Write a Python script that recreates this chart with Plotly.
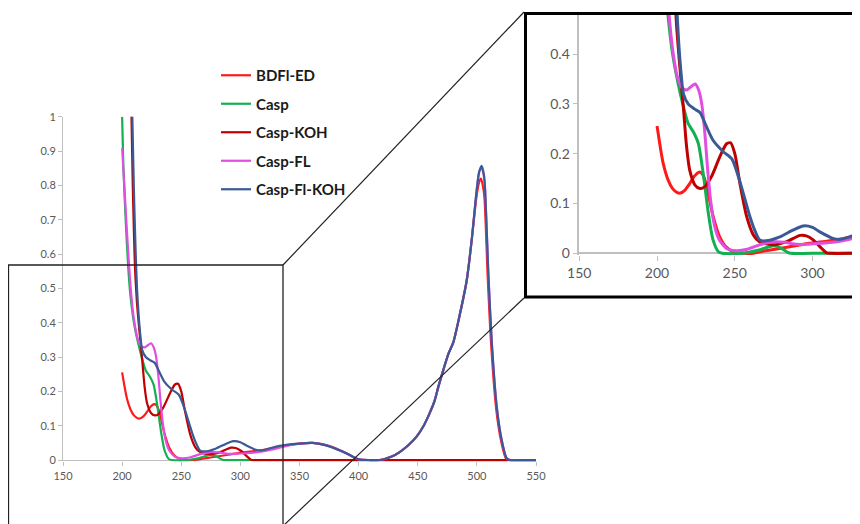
import plotly.graph_objects as go

# the page body has an 8px margin; the figure fills the rest of the 860x524 window
OFF = 8
W, H = 860 - OFF, 524 - OFF

series_names = ["BDFl-ED", "Casp", "Casp-KOH", "Casp-FL", "Casp-Fl-KOH"]
series_colors = ["#FF1A1A", "#12B050", "#C00000", "#E14FE1", "#3A5A95"]

wl_bdfl = [200, 202, 204, 207, 210, 213, 215, 218, 221, 224, 227, 229, 231, 233, 236, 240, 244, 249, 255, 262,
           268, 276, 287, 298, 310, 320, 330, 340, 350, 361, 370, 380, 390, 400, 410, 418, 428, 435, 442, 449,
           455, 460, 464, 467.4, 471.6, 476, 480, 485.7, 491.4, 495.6, 499.8, 502, 503.5, 505.5, 506.5, 509.2,
           512, 516.3, 520.5, 524.7, 528, 540, 550]
abs_bdfl = [0.2555, 0.215, 0.18, 0.148, 0.13, 0.122, 0.121, 0.127, 0.14, 0.155, 0.163, 0.16, 0.145, 0.118, 0.075,
            0.035, 0.014, 0.003, 0.0, 0.0, 0.004, 0.008, 0.014, 0.02, 0.025, 0.03, 0.037, 0.043, 0.048, 0.05, 0.046,
            0.035, 0.019, 0.002, 0.0, 0.0, 0.01, 0.024, 0.043, 0.068, 0.1, 0.136, 0.17, 0.213, 0.262, 0.31, 0.342,
            0.426, 0.523, 0.64, 0.77, 0.81, 0.82, 0.79, 0.76, 0.53, 0.34, 0.15, 0.055, 0.004, 0.0, 0.0, 0.0]

wl_casp = [200, 201, 203, 205, 207, 210, 213.6, 217, 220, 223.3, 226.5, 229.7, 233, 236, 239.5, 242, 255, 265,
           275, 280, 284, 286, 300, 400, 500, 550]
abs_casp = [1.0, 0.86, 0.70, 0.57, 0.48, 0.40, 0.34, 0.294, 0.261, 0.244, 0.221, 0.16, 0.08, 0.027, 0.003, 0.0,
            0.0, 0.006, 0.015, 0.01, 0.002, 0.0, 0.0, 0.0, 0.0, 0.0]

wl_casp_koh = [207.8, 209, 210, 211, 212.5, 214.5, 217, 219, 221, 224.4, 227.6, 230.8, 235, 240.4, 244.7, 247.3,
               250, 253.3, 257.6, 261.9, 266, 274.7, 283, 292, 296, 300.4, 305.8, 309, 311, 330, 400, 500, 550]
abs_casp_koh = [1.02, 0.8, 0.66, 0.55, 0.46, 0.38, 0.29, 0.214, 0.167, 0.137, 0.13, 0.134, 0.154, 0.194, 0.22,
                0.222, 0.2, 0.14, 0.074, 0.037, 0.023, 0.017, 0.023, 0.036, 0.035, 0.027, 0.01, 0.001, 0.0, 0.0,
                0.0, 0.0, 0.0]

wl_casp_fl = [200, 202, 204, 206, 208, 210, 213, 216, 219, 222, 224.5, 226.5, 228.5, 230.5, 232.5, 234.5, 237,
              240, 245, 251, 258, 266, 275, 282, 290, 300, 313, 326, 340, 350, 361, 376, 390, 400, 410, 418, 428,
              435, 442, 449, 455, 460, 464, 467.4, 471.6, 476, 480, 485.7, 491.4, 495.6, 499.8, 502, 504, 506,
              507, 509.7, 512.5, 516.8, 521, 525.2, 528, 540, 550]
abs_casp_fl = [0.908, 0.79, 0.67, 0.56, 0.47, 0.41, 0.355, 0.333, 0.328, 0.335, 0.34, 0.33, 0.305, 0.25, 0.17,
               0.105, 0.055, 0.027, 0.009, 0.005, 0.008, 0.017, 0.023, 0.022, 0.018, 0.019, 0.022, 0.03, 0.042,
               0.048, 0.05, 0.039, 0.019, 0.002, 0.0, 0.0, 0.01, 0.024, 0.043, 0.068, 0.1, 0.136, 0.17, 0.213,
               0.262, 0.31, 0.342, 0.426, 0.523, 0.64, 0.785, 0.84, 0.85, 0.825, 0.785, 0.543, 0.349, 0.155, 0.058,
               0.005, 0.0, 0.0, 0.0]

wl_casp_fl_koh = [208.5, 210, 211.5, 212.6, 214, 215.5, 217, 220, 224, 227.6, 231, 236, 242.6, 248, 253, 259.7,
                  263, 266, 270, 279, 287.6, 294, 300, 304.7, 313, 318, 326, 333, 340, 350, 361, 376, 390, 400,
                  410, 418, 428, 435, 442, 449, 455, 460, 464, 467.4, 471.6, 476, 480, 485.7, 491.4, 495.6, 499.8,
                  502, 504, 506, 507, 509.7, 512.5, 516.8, 521, 525.2, 528, 540, 550]
abs_casp_fl_koh = [1.02, 0.78, 0.6, 0.5, 0.42, 0.36, 0.32, 0.30, 0.29, 0.283, 0.26, 0.227, 0.204, 0.19, 0.147,
                   0.074, 0.045, 0.027, 0.025, 0.033, 0.047, 0.055, 0.052, 0.043, 0.03, 0.028, 0.035, 0.041,
                   0.045, 0.048, 0.05, 0.039, 0.019, 0.002, 0.0, 0.0, 0.01, 0.024, 0.043, 0.068, 0.1, 0.136, 0.17,
                   0.213, 0.262, 0.31, 0.342, 0.426, 0.523, 0.64, 0.785, 0.84, 0.857, 0.83, 0.785, 0.543, 0.349,
                   0.155, 0.058, 0.005, 0.0, 0.0, 0.0]

main_x_ticks = [150, 200, 250, 300, 350, 400, 450, 500, 550]
main_y_ticks = [0, 0.1, 0.2, 0.3, 0.4, 0.5, 0.6, 0.7, 0.8, 0.9, 1]
inset_x_ticks = [150, 200, 250, 300]
inset_y_ticks = [0, 0.1, 0.2, 0.3, 0.4]

all_x = [wl_bdfl, wl_casp, wl_casp_koh, wl_casp_fl, wl_casp_fl_koh]
all_y = [abs_bdfl, abs_casp, abs_casp_koh, abs_casp_fl, abs_casp_fl_koh]


def px(x):
    """window x pixel -> paper fraction"""
    return (x - OFF) / W


def py(y):
    """window y pixel -> paper fraction"""
    return (H - (y - OFF)) / H


fig = go.Figure()

for i, name in enumerate(series_names):
    fig.add_trace(go.Scatter(
        x=all_x[i], y=all_y[i], name=name, mode="lines",
        line=dict(color=series_colors[i], width=2.2, shape="spline", smoothing=0.7),
        legendgroup=name, xaxis="x", yaxis="y", showlegend=True,
    ))
for i, name in enumerate(series_names):
    fig.add_trace(go.Scatter(
        x=all_x[i], y=all_y[i], name=name, mode="lines",
        line=dict(color=series_colors[i], width=3, shape="spline", smoothing=0.7),
        legendgroup=name, xaxis="x2", yaxis="y2", showlegend=False,
    ))

axis_gray = "#BFBFBF"
label_gray = "#595959"
font_family = "Lato, 'Liberation Sans', sans-serif"

fig.update_layout(
    width=W, height=H,
    margin=dict(l=0, r=0, t=0, b=0, autoexpand=False),
    paper_bgcolor="white", plot_bgcolor="rgba(0,0,0,0)",
    font=dict(family=font_family, color=label_gray),
    xaxis=dict(domain=[px(63), px(536)], range=[150, 550], tickvals=main_x_ticks,
               showgrid=False, zeroline=False, showline=False, ticks="outside", ticklen=4,
               tickcolor=axis_gray, tickfont=dict(size=11, color=label_gray), anchor="y"),
    yaxis=dict(domain=[py(461.4), py(116.7)], range=[-0.004, 1.0], tickvals=main_y_ticks,
               ticktext=[f"{v:g}" for v in main_y_ticks],
               showgrid=False, zeroline=True, zerolinecolor=axis_gray, zerolinewidth=1,
               showline=True, linecolor=axis_gray, ticks="outside", ticklen=4,
               tickcolor=axis_gray, tickfont=dict(size=11, color=label_gray), anchor="x"),
    xaxis2=dict(domain=[px(579.3), px(857)], range=[150, 150 + (857 - 579.3) / 1.555],
                tickvals=inset_x_ticks,
                showgrid=False, zeroline=False, showline=False, ticks="outside", ticklen=5,
                tickcolor=axis_gray, tickfont=dict(size=14, color=label_gray), anchor="y2"),
    yaxis2=dict(domain=[py(255.3), py(13.3)], range=[-0.004, 0.482], tickvals=inset_y_ticks,
                ticktext=[f"{v:g}" for v in inset_y_ticks],
                showgrid=False, zeroline=True, zerolinecolor=axis_gray, zerolinewidth=1.5,
                showline=True, linecolor=axis_gray, linewidth=1.5, ticks="outside", ticklen=5,
                tickcolor=axis_gray, tickfont=dict(size=14, color=label_gray), anchor="x2"),
    legend=dict(x=px(216), y=py(59), xanchor="left", yanchor="top",
                font=dict(size=15, color="#1a1a1a", family=font_family, weight="bold"),
                bgcolor="rgba(0,0,0,0)", traceorder="grouped", tracegroupgap=6,
                itemwidth=30),
    showlegend=True,
)

shapes = [
    dict(type="rect", xref="paper", yref="paper", x0=px(8.5), x1=px(283), y0=py(530), y1=py(265),
         line=dict(color="#222222", width=1.3), fillcolor="rgba(0,0,0,0)", layer="above"),
    dict(type="line", xref="paper", yref="paper", x0=px(283), y0=py(265), x1=px(524), y1=py(12),
         line=dict(color="#222222", width=1.2), layer="above"),
    dict(type="line", xref="paper", yref="paper", x0=px(283), y0=py(526), x1=px(524), y1=py(298),
         line=dict(color="#222222", width=1.2), layer="above"),
    dict(type="rect", xref="paper", yref="paper", x0=px(525.5), x1=px(858), y0=py(297), y1=py(13.5),
         line=dict(color="black", width=3), fillcolor="rgba(0,0,0,0)", layer="above"),
]
fig.update_layout(shapes=shapes)

fig.write_html("out.html")
